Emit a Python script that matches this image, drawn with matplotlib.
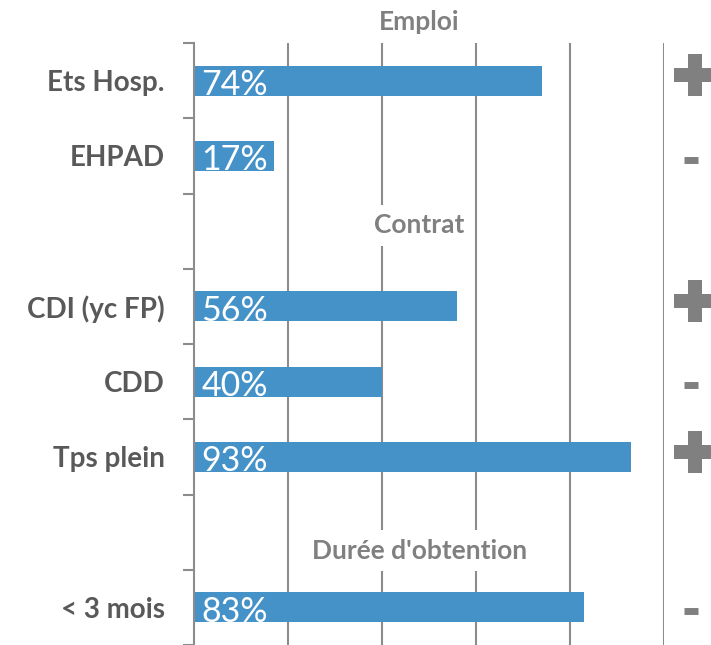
import matplotlib
matplotlib.use("Agg")
import matplotlib.pyplot as plt
import matplotlib.transforms as mtransforms
import numpy as np

# Data
categories = ["Ets Hosp.", "EHPAD", "", "CDI (yc FP)", "CDD", "Tps plein", "", "< 3 mois"]
values = [74, 17, None, 56, 40, 93, None, 83]
value_labels = ["74%", "17%", "", "56%", "40%", "93%", "", "83%"]
signs = ["+", "-", "", "+", "-", "+", "", "-"]
sections = ["Emploi", "Contrat", "Durée d'obtention"]
section_pos = [-0.78, 1.92, 6.25]

BAR = "#4592C9"
LABEL = "#595959"
GRAY = "#808080"
LINE = "#8C8C8C"

fig = plt.figure(figsize=(7.11, 6.45), dpi=100)
ax = fig.add_axes([194 / 711, 0.0, 470 / 711, 1 - 43 / 645])

ypos = np.arange(len(categories))
for y, v in zip(ypos, values):
    if v is not None:
        ax.barh(y, v, height=0.4, color=BAR, zorder=2)

ax.set_xlim(0, 100)
ax.set_ylim(len(categories) - 0.5, -0.5)

# gridlines
ax.set_xticks([20, 40, 60, 80, 100])
ax.xaxis.grid(True, color=LINE, linewidth=1.5, zorder=0)
ax.tick_params(axis="x", length=0, labelbottom=False)

# y ticks: labels at centers, marks at boundaries
ax.set_yticks(ypos)
ax.set_yticklabels(categories, fontfamily="Lato", fontweight="bold", fontsize=20, color=LABEL)
ax.tick_params(axis="y", which="major", length=0, pad=21)
ax.set_yticks(np.arange(-0.5, len(categories) + 0.5, 1), minor=True)
ax.tick_params(axis="y", which="minor", length=8, width=1.5, color=LINE, direction="out")

for s in ["top", "right", "bottom"]:
    ax.spines[s].set_visible(False)
ax.spines["left"].set_color(LINE)
ax.spines["left"].set_linewidth(1.5)

# value labels
for y, v, lab in zip(ypos, values, value_labels):
    if v is not None:
        ax.text(1.6, y + 0.19, lab, color="white", fontfamily="Lato", fontsize=24.5,
                ha="left", va="baseline", zorder=3)

# section headers
for name, p in zip(sections, section_pos):
    ax.text(48, p, name, color=GRAY, fontfamily="Lato", fontweight="bold", fontsize=19,
            ha="center", va="center", zorder=3, clip_on=False,
            bbox=dict(facecolor="white", edgecolor="none", pad=6))

# signs
trans = mtransforms.blended_transform_factory(ax.transAxes, ax.transData)
for y, s in zip(ypos, signs):
    if s == "+":
        ax.plot([1.0655], [y - 0.07], marker="P", markersize=30, color=GRAY,
                transform=trans, clip_on=False, markeredgewidth=0)
    elif s == "-":
        ax.plot([1.0585], [y + 0.05], marker="_", markersize=10.5, markeredgewidth=5,
                color=GRAY, transform=trans, clip_on=False)

fig.savefig("out.png", dpi=100)
